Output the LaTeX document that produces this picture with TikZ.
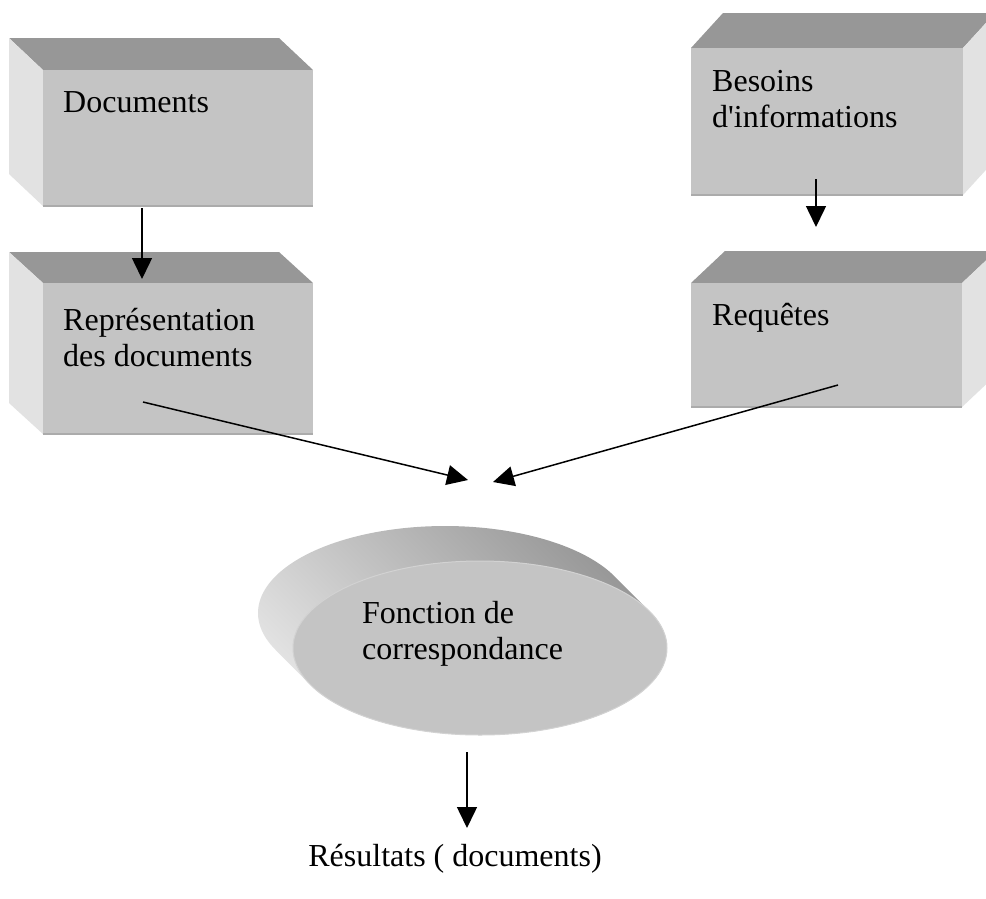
\documentclass[tikz,border=0pt]{standalone}
\usepackage{fontspec}
\setmainfont{Liberation Serif}
\usetikzlibrary{arrows.meta,shapes.geometric}

\definecolor{facefront}{HTML}{C4C4C4}
\definecolor{facetop}{HTML}{979797}
\definecolor{faceside}{HTML}{E2E2E2}
\definecolor{faceedge}{HTML}{ABABAB}
\definecolor{rimlight}{HTML}{E4E4E4}
\definecolor{rimmid}{HTML}{A9A9A9}
\definecolor{rimdark}{HTML}{969696}
\definecolor{ellrim}{HTML}{D2D2D2}

\begin{document}
\begin{tikzpicture}[x=1pt,y=-1pt,
  frontface/.style={rectangle, fill=facefront, draw=none, inner sep=0pt,
    outer sep=0pt, anchor=north west},
  topface/.style={fill=facetop},
  sideface/.style={fill=faceside},
  bottomedge/.style={draw=faceedge, line width=2pt},
  boxtext/.style={anchor=base west, inner sep=0pt,
    font=\fontsize{32}{36.8}\selectfont},
  flow/.style={line width=1.5pt, -{Triangle[width=20pt,length=21pt]}}
]
\clip (0,0) rectangle (986,898);
\fill[white] (0,0) rectangle (986,898);

% ---- Documents (extruded to the upper left)
\fill[topface]  (43,70) -- (313,70) -- (279,38) -- (9,38) -- cycle;
\fill[sideface] (43,70) -- (43,206) -- (9,174) -- (9,38) -- cycle;
\node[frontface, minimum width=270pt, minimum height=136pt] (docs) at (43,70) {};
\draw[bottomedge] (docs.south west) -- (docs.south east);
\node[boxtext] (docs-text) at (63,112) {Documents};

% ---- Représentation des documents
\fill[topface]  (43,283) -- (313,283) -- (279,252) -- (9,252) -- cycle;
\fill[sideface] (43,283) -- (43,434) -- (9,403) -- (9,252) -- cycle;
\node[frontface, minimum width=270pt, minimum height=151pt] (rep) at (43,283) {};
\draw[bottomedge] (rep.south west) -- (rep.south east);
\node[boxtext] (rep-text) at (63,330)
  {\begin{tabular}[t]{@{}l@{}}Représentation\\des documents\end{tabular}};

% ---- Besoins d'informations (extruded to the upper right)
\fill[topface]  (691,48) -- (963,48) -- (995,13) -- (723,13) -- cycle;
\fill[sideface] (963,48) -- (963,195) -- (995,160) -- (995,13) -- cycle;
\node[frontface, minimum width=272pt, minimum height=147pt] (need) at (691,48) {};
\draw[bottomedge] (need.south west) -- (need.south east);
\node[boxtext] (need-text) at (712,91)
  {\begin{tabular}[t]{@{}l@{}}Besoins\\d\textquotesingle informations\end{tabular}};

% ---- Requêtes
\fill[topface]  (691,283) -- (962,283) -- (996,251) -- (725,251) -- cycle;
\fill[sideface] (962,283) -- (962,407) -- (996,375) -- (996,251) -- cycle;
\node[frontface, minimum width=271pt, minimum height=124pt] (query) at (691,283) {};
\draw[bottomedge] (query.south west) -- (query.south east);
\node[boxtext] (query-text) at (712,325) {Requêtes};

% ---- Fonction de correspondance: extruded ellipse
\shade[bottom color=rimlight, middle color=rimmid, top color=rimdark,
       shading angle=-45]
  plot[domain=-24.95:-204.95, samples=90] ({445+187*cos(\x)},{613+87*sin(\x)})
  -- plot[domain=155.05:-24.95, samples=90] ({480+187*cos(\x)},{648+87*sin(\x)})
  -- cycle;
\node[ellipse, fill=facefront, draw=ellrim, line width=1pt, inner sep=0pt,
  minimum width=374pt, minimum height=174pt] (match) at (480,648) {};
\node[boxtext] (match-text) at (362,623)
  {\begin{tabular}[t]{@{}l@{}}Fonction de\\correspondance\end{tabular}};

% ---- Result
\node[anchor=base, inner sep=0pt, font=\fontsize{32}{36.8}\selectfont]
  (result) at (455,866) {Résultats ( documents)};

% ---- Connector end points
\coordinate (docs-out)  at (142,208);
\coordinate (rep-in)    at (142,279);
\coordinate (need-out)  at (816,179);
\coordinate (query-in)  at (816,227);
\coordinate (rep-out)   at (143,402);
\coordinate (query-out) at (838,385);
\coordinate (match-in1) at (468,480);
\coordinate (match-in2) at (493,482);
\coordinate (match-out) at (467,752);
\coordinate (result-in) at (467,828);

% ---- Connectors
\draw[flow] (docs-out) -- (rep-in);
\draw[flow] (need-out) -- (query-in);
\draw[flow] (rep-out) -- (match-in1);
\draw[flow] (query-out) -- (match-in2);
\draw[flow] (match-out) -- (result-in);
\end{tikzpicture}
\end{document}
